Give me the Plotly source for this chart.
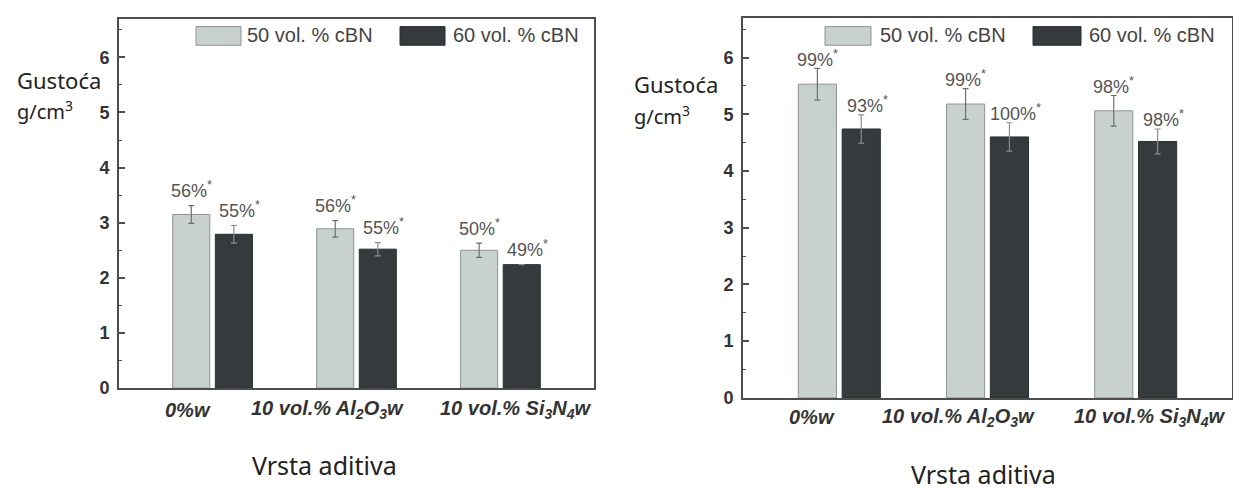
import plotly.graph_objects as go

W, H = 1241, 491

# ---------------- data ----------------
categories = ["0%w",
              "10 vol.% Al<sub>2</sub>O<sub>3</sub>w",
              "10 vol.% Si<sub>3</sub>N<sub>4</sub>w"]
series_names = ["50 vol. % cBN", "60 vol. % cBN"]

left_50 = [3.15, 2.89, 2.50]
left_60 = [2.79, 2.52, 2.24]
left_50_err = [0.16, 0.15, 0.13]
left_60_err = [0.16, 0.12, 0.0]
left_50_lbl = ["56%", "56%", "50%"]
left_60_lbl = ["55%", "55%", "49%"]

right_50 = [5.53, 5.18, 5.06]
right_60 = [4.74, 4.60, 4.52]
right_50_err = [0.28, 0.27, 0.27]
right_60_err = [0.25, 0.25, 0.22]
right_50_lbl = ["99%", "99%", "98%"]
right_60_lbl = ["93%", "100%", "98%"]

y_title = "Gustoća"
y_unit = "g/cm<sup>3</sup>"
x_title = "Vrsta aditiva"

# ---------------- styles ----------------
LIGHT = "#c9d1cf"
LIGHT_LINE = "#8e9493"
DARK = "#353b3c"
DARK_LINE = "#2a2f30"
FRAME = "#4d4d4d"
ARIAL = "Liberation Sans, Arial, sans-serif"
HUMAN = "Noto Sans, sans-serif"

BARGAP = 0.408
BARGROUPGAP = 0.13
OFF = (1 - BARGAP) / 4


def px(x):
    return x / W


def py(y):
    return 1 - y / H


idx = list(range(len(categories)))

fig = go.Figure()

panels = [
    dict(xa="x", ya="y", s50=left_50, s60=left_60, e50=left_50_err, e60=left_60_err,
         l50=left_50_lbl, l60=left_60_lbl,
         xdom=[px(111), px(586)], ydom=[py(388), py(11)],
         lbl_shift=16, cat_y=410, cat_shift=[-25, -29, 16],
         gy=(7, 73, 105), vx=(316, 466),
         leg=[(188, 233, 237), (392, 437, 443)]),
    dict(xa="x2", ya="y2", s50=right_50, s60=right_60, e50=right_50_err, e60=right_60_err,
         l50=right_50_lbl, l60=right_60_lbl,
         xdom=[px(735), px(1224)], ydom=[py(398), py(10)],
         lbl_shift=10, cat_y=418, cat_shift=[-27, -29, 14],
         gy=(624, 78, 110), vx=(975, 476),
         leg=[(817, 863, 870), (1025, 1073, 1079)]),
]

annotations = []
shapes = []

for p in panels:
    for k, (vals, errs, labels, fill, line, ecol, sign) in enumerate([
            (p["s50"], p["e50"], p["l50"], LIGHT, LIGHT_LINE, "#6a706f", -1),
            (p["s60"], p["e60"], p["l60"], DARK, DARK_LINE, "#8a8f8e", 1)]):
        fig.add_trace(go.Bar(
            x=idx, y=vals, name=series_names[k],
            xaxis=p["xa"], yaxis=p["ya"], showlegend=False,
            marker=dict(color=fill, line=dict(color=line, width=1)),
            error_y=dict(type="data", array=errs, visible=True,
                         color=ecol, thickness=1.2, width=3),
        ))
        for i, v, e, t in zip(idx, vals, errs, labels):
            annotations.append(dict(
                x=i + sign * OFF, y=v + e, xref=p["xa"], yref=p["ya"],
                text=t + "<sup>*</sup>", showarrow=False,
                yanchor="middle", xanchor="center",
                yshift=p["lbl_shift"], xshift=(0 if sign < 0 else 6),
                font=dict(family=ARIAL, size=18, color="#555555")))
        # legend swatch + text
        x0, x1, tx = p["leg"][k]
        shapes.append(dict(type="rect", xref="paper", yref="paper",
                           x0=px(x0), x1=px(x1), y0=py(38), y1=py(19),
                           fillcolor=fill, line=dict(color=line, width=1)))
        annotations.append(dict(x=px(tx), y=py(28), xref="paper", yref="paper",
                                text=series_names[k], showarrow=False,
                                xanchor="left", yanchor="middle",
                                font=dict(family=ARIAL, size=20, color="#444444")))
    # category labels
    for i, c, sh in zip(idx, categories, p["cat_shift"]):
        annotations.append(dict(x=i, y=py(p["cat_y"]), xref=p["xa"], yref="paper",
                                text="<b><i>" + c + "</i></b>", showarrow=False,
                                xanchor="center", yanchor="middle", xshift=sh,
                                font=dict(family=ARIAL, size=20, color="#333333")))
    gx, g1, g2 = p["gy"]
    annotations.append(dict(x=px(gx), y=py(g1), xref="paper", yref="paper",
                            text=y_title, showarrow=False, xanchor="left", yanchor="middle",
                            font=dict(family=HUMAN, size=22, color="#222222")))
    annotations.append(dict(x=px(gx), y=py(g2), xref="paper", yref="paper",
                            text=y_unit, showarrow=False, xanchor="left", yanchor="middle",
                            font=dict(family=HUMAN, size=20, color="#222222")))
    vx, vy = p["vx"]
    annotations.append(dict(x=px(vx), y=py(vy), xref="paper", yref="paper",
                            text=x_title, showarrow=False, xanchor="center", yanchor="middle",
                            font=dict(family=HUMAN, size=25, color="#222222")))

xcommon = dict(range=[-0.65, 2.65], showticklabels=False, ticks="",
               showline=True, mirror=True, linecolor=FRAME, linewidth=2,
               showgrid=False, zeroline=False, fixedrange=True)
ycommon = dict(range=[0, 6.7], tickvals=[0, 1, 2, 3, 4, 5, 6], ticks="inside",
               ticklen=6, tickwidth=1.5, tickcolor=FRAME,
               minor=dict(dtick=0.5, ticks="inside", ticklen=3, tickcolor=FRAME, tickwidth=1),
               showline=True, mirror=True, linecolor=FRAME, linewidth=2,
               showgrid=False, zeroline=False,
               tickfont=dict(family=ARIAL, size=18, color="#333333", weight="bold"),
               ticklabelstandoff=4)

fig.update_layout(
    width=W, height=H, autosize=False,
    margin=dict(l=0, r=0, t=0, b=0),
    paper_bgcolor="white", plot_bgcolor="white",
    barmode="group", bargap=BARGAP, bargroupgap=BARGROUPGAP,
    showlegend=False,
    xaxis=dict(domain=panels[0]["xdom"], anchor="y", **xcommon),
    yaxis=dict(domain=panels[0]["ydom"], anchor="x", **ycommon),
    xaxis2=dict(domain=panels[1]["xdom"], anchor="y2", **xcommon),
    yaxis2=dict(domain=panels[1]["ydom"], anchor="x2", **ycommon),
    annotations=annotations, shapes=shapes,
)

fig.write_html("out.html")
